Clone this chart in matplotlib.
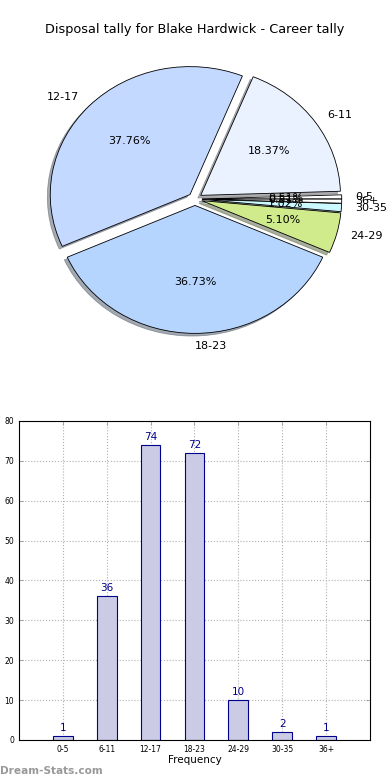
import matplotlib
matplotlib.use("Agg")
from matplotlib import pyplot as plt

TITLE = "Disposal tally for Blake Hardwick - Career tally"
CATEGORIES = ["0-5", "6-11", "12-17", "18-23", "24-29", "30-35", "36+"]
COUNTS = [1, 36, 74, 72, 10, 2, 1]
PIE_COLORS = ["#ffffff", "#eaf1ff", "#c4d9ff", "#b5d5ff", "#d0eb8c", "#ccf8ff", "#ffffff"]

fig = plt.figure(figsize=(3.9, 7.8), dpi=100)

# pie on top
ax = fig.add_axes([0.045, 0.5365, 0.910, 0.4167])
wedges, texts, autotexts = ax.pie(COUNTS, labels=CATEGORIES, colors=PIE_COLORS,
                                  explode=[0.05] * len(COUNTS),
                                  shadow={"ox": -0.015, "oy": -0.015, "shade": 0.6},
                                  autopct="%1.2f%%", startangle=0,
                                  labeldistance=1.1, pctdistance=0.6,
                                  wedgeprops={"edgecolor": "black", "linewidth": 0.6},
                                  textprops={"fontsize": 8})
ax.set_aspect("auto")
ax.set_xlim(-1.27, 1.27)
ax.set_ylim(-1.27, 1.27)
ax.axis("off")
fig.text(0.5, 1 - 30 / 780, TITLE, ha="center", va="center", fontsize=9.3)

# bars below
ax2 = fig.add_axes([0.0487, 0.0513, 0.9, 0.409])
x = range(len(CATEGORIES))
ax2.bar(x, COUNTS, width=0.45, color="#cbcbe5", edgecolor="#00008b", linewidth=0.8, zorder=2)
for i, c in zip(x, COUNTS):
    ax2.text(i, c + 0.8, str(c), ha="center", va="bottom", color="#00008b", fontsize=7.5)
ax2.set_xlim(-1, 7)
ax2.set_ylim(0, 80)
ax2.set_xticks(list(x))
ax2.set_xticklabels(CATEGORIES)
ax2.set_yticks(range(0, 81, 10))
ax2.tick_params(labelsize=5.5, direction="in", top=True, right=True, length=3, width=0.5, color="#888888")
ax2.grid(True, linestyle=":", color="#b0b0b0", linewidth=0.8, zorder=0)
ax2.set_xlabel("Frequency", fontsize=7.5, labelpad=1)
for s in ax2.spines.values():
    s.set_linewidth(0.8)

fig.text(0.0, 1 - 771 / 780, "Dream-Stats.com", ha="left", va="center",
         fontsize=7.6, color="#999999", fontweight="bold")

fig.savefig("out.png", dpi=100)
